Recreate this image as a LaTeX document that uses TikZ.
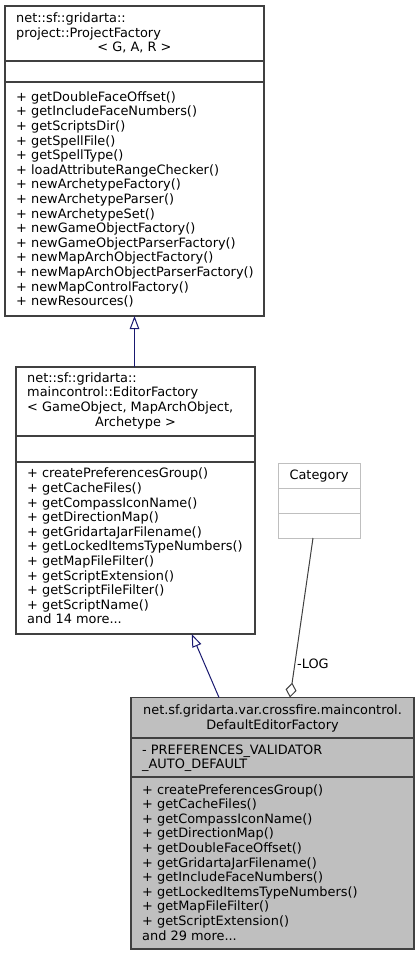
\documentclass[tikz,border=0pt]{standalone}
\usepackage{fontspec}
\setmainfont{DejaVu Sans}
\usetikzlibrary{arrows.meta,calc}
\definecolor{edgegray}{HTML}{404040}
\definecolor{fillgray}{HTML}{BFBFBF}
\definecolor{inhblue}{HTML}{191970}
\definecolor{catgray}{HTML}{BFBFBF}
\tikzset{
  classbox/.style={draw=edgegray, line width=1.1pt, inner sep=0pt, outer sep=0pt, anchor=north west},
  catbox/.style={draw=catgray, line width=1pt, inner sep=0pt, outer sep=0pt, anchor=north west},
  txt/.style={anchor=base west, inner sep=0pt, font=\fontsize{12.9}{14.6}\selectfont},
  ctxt/.style={anchor=base, inner sep=0pt, font=\fontsize{12.9}{14.6}\selectfont},
  sep/.style={draw=edgegray, line width=1.1pt},
  catsep/.style={draw=catgray, line width=1pt},
  inh/.style={draw=inhblue, line width=1pt, -{Triangle[open, length=13pt, width=9.5pt]}},
  agg/.style={draw=edgegray, line width=1pt, -{Diamond[open, length=15pt, width=11pt]}}
}
\begin{document}
\begin{tikzpicture}[x=1pt,y=-1pt]
\fill[white] (0,0) rectangle (419,956);
\useasboundingbox (0,0) rectangle (419,956);

% ProjectFactory
\node[classbox, minimum width=259pt, minimum height=310pt] (pf) at (5,6) {};
\draw[sep] (pf.west |- 0,61) -- (pf.east |- 0,61);
\draw[sep] (pf.west |- 0,82) -- (pf.east |- 0,82);
\node[txt] (pfh1) at (16,22.5) {net::sf::gridarta::};
\node[txt] (pfh2) at (16,37.1) {project::ProjectFactory};
\node[ctxt] (pfh3) at (134.5,51.7) {< G, A, R >};
\foreach \t [count=\i from 0] in {+ getDoubleFaceOffset(), + getIncludeFaceNumbers(), + getScriptsDir(), + getSpellFile(), + getSpellType(), + loadAttributeRangeChecker(), + newArchetypeFactory(), + newArchetypeParser(), + newArchetypeSet(), + newGameObjectFactory(), + newGameObjectParserFactory(), + newMapArchObjectFactory(), + newMapArchObjectParserFactory(), + newMapControlFactory(), + newResources()}
  \node[txt] (pfm\i) at (16,101.3+\i*14.6) {\t};

% EditorFactory
\node[classbox, minimum width=239pt, minimum height=267pt] (ef) at (16,367) {};
\draw[sep] (ef.west |- 0,436) -- (ef.east |- 0,436);
\draw[sep] (ef.west |- 0,462) -- (ef.east |- 0,462);
\node[txt] (efh1) at (27,382.3) {net::sf::gridarta::};
\node[txt] (efh2) at (27,396.9) {maincontrol::EditorFactory};
\node[txt] (efh3) at (27,411.5) {< GameObject, MapArchObject,};
\node[ctxt] (efh4) at (135.5,426.1) {Archetype >};
\foreach \t [count=\i from 0] in {+ createPreferencesGroup(), + getCacheFiles(), + getCompassIconName(), + getDirectionMap(), + getGridartaJarFilename(), + getLockedItemsTypeNumbers(), + getMapFileFilter(), + getScriptExtension(), + getScriptFileFilter(), + getScriptName()}
  \node[txt] (efm\i) at (27,477.8+\i*14.6) {\t};
\node[txt] (efmore) at (27,623.8) {and 14 more...};

% Category
\node[catbox, minimum width=82pt, minimum height=75pt] (cat) at (278,463) {};
\draw[catsep] (cat.west |- 0,488) -- (cat.east |- 0,488);
\draw[catsep] (cat.west |- 0,513) -- (cat.east |- 0,513);
\node[ctxt] (cath) at (319,479.2) {Category};

% DefaultEditorFactory
\node[classbox, fill=fillgray, minimum width=283pt, minimum height=251.5pt] (def) at (131,697.5) {};
\draw[sep] (def.west |- 0,738) -- (def.east |- 0,738);
\draw[sep] (def.west |- 0,777) -- (def.east |- 0,777);
\node[ctxt] (defh1) at (272.5,714.7) {net.sf.gridarta.var.crossfire.maincontrol.};
\node[ctxt] (defh2) at (272.5,729.3) {DefaultEditorFactory};
\node[txt] (defa1) at (142,754.3) {- PREFERENCES\_VALIDATOR};
\node[txt] (defa2) at (142,768.9) {\_AUTO\_DEFAULT};
\foreach \t [count=\i from 0] in {+ createPreferencesGroup(), + getCacheFiles(), + getCompassIconName(), + getDirectionMap(), + getDoubleFaceOffset(), + getGridartaJarFilename(), + getIncludeFaceNumbers(), + getLockedItemsTypeNumbers(), + getMapFileFilter(), + getScriptExtension()}
  \node[txt] (defm\i) at (142,794.1+\i*14.6) {\t};
\node[txt] (defmore) at (142,940.1) {and 29 more...};

% connectors
\draw[inh] (ef.north -| pf.south) -- (pf.south);
\draw[inh] ($(def.north west)+(88,0)$) -- ($(ef.south west)+(175.7,0)$);
\draw[agg] ($(cat.south)+(-6,0)$) -- ($(def.north west)+(159,0)$);
\node[txt] (loglbl) at (297,668.8) {-LOG};
\end{tikzpicture}
\end{document}
